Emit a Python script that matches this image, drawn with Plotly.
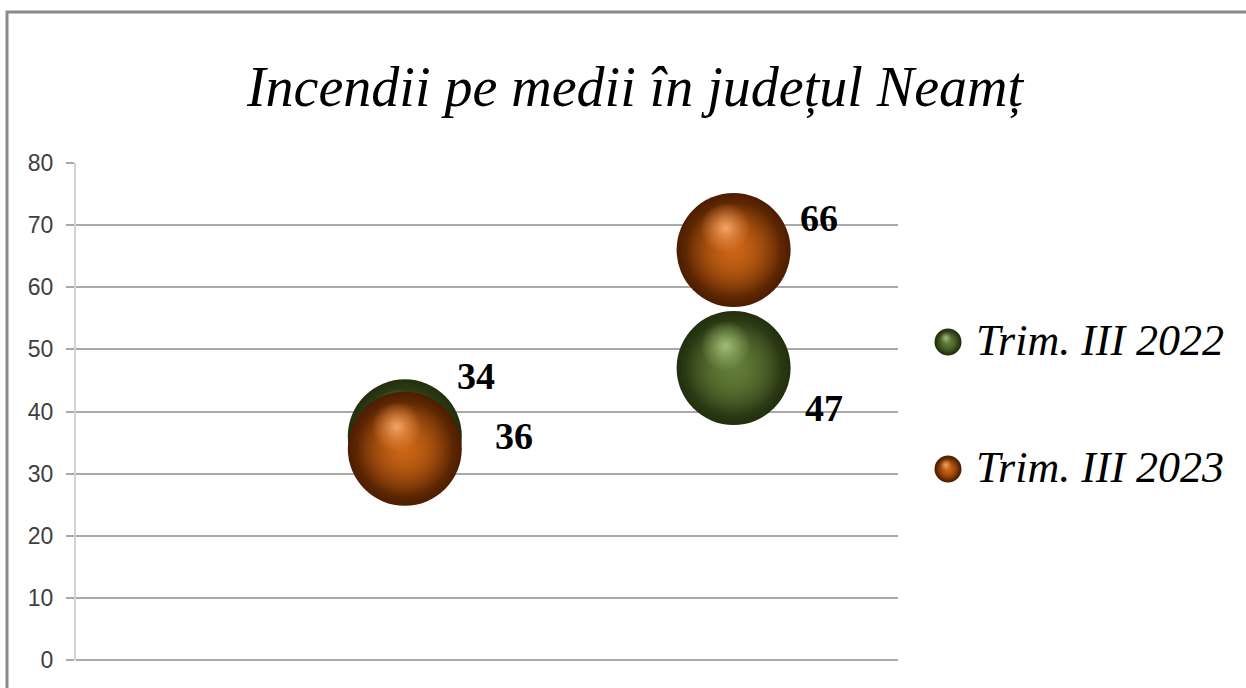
import plotly.graph_objects as go

# ---- data ----
x_positions = [1, 2]                      # two categories (no x labels shown)
series_names = ["Trim. III 2022", "Trim. III 2023"]
values_2022 = [36, 47]                    # bubble heights as drawn
values_2023 = [34, 66]
labels_2022 = ["34", "47"]                # data label texts as shown
labels_2023 = ["36", "66"]
y_ticks = [0, 10, 20, 30, 40, 50, 60, 70, 80]
title_text = "Incendii pe medii în județul Neamț"

# ---- layout geometry (pixels) ----
W, H = 1246, 688
ML, MT, MB = 76, 163, 28
PLOT_RIGHT = 898                 # right end of the gridlines
PAPER_W = W - ML                 # paper spans to the right edge (legend lives there)
PH = H - MT - MB
AX_W = PLOT_RIGHT - ML
X_RANGE = [0, 2.5]
Y_RANGE = [0, 80]


def px_x(px):
    return (px - ML) / PAPER_W


def px_y(py):
    return (H - MB - py) / PH


BUBBLE = 114
HL_DX_PX, HL_DY_PX = -8, -22
dx = HL_DX_PX * (X_RANGE[1] - X_RANGE[0]) / AX_W
dy = -HL_DY_PX * (Y_RANGE[1] - Y_RANGE[0]) / PH

styles = {
    "Trim. III 2022": dict(edge="#222e0d", base="#5c7633",
                           mid="rgba(98,124,58,0.95)", mid0="rgba(98,124,58,0)",
                           hl="rgba(166,194,120,0.95)", hl0="rgba(150,180,110,0)"),
    "Trim. III 2023": dict(edge="#4c1d00", base="#b8590f",
                           mid="rgba(204,102,22,0.95)", mid0="rgba(204,102,22,0)",
                           hl="rgba(248,170,108,0.95)", hl0="rgba(235,140,70,0)"),
}


def sphere_traces(xs, ys, size, st, xaxis="x", yaxis="y", hx=0.0, hy=0.0):
    """Three stacked radial-gradient markers to fake a shaded sphere.
    For radial gradients, gradient.color is the centre colour."""
    common = dict(mode="markers", showlegend=False, hoverinfo="skip",
                  cliponaxis=False, xaxis=xaxis, yaxis=yaxis)
    return [
        go.Scatter(x=xs, y=ys, **common,
                   marker=dict(size=size, color=st["edge"], line=dict(width=0),
                               gradient=dict(type="radial", color=st["base"]))),
        go.Scatter(x=xs, y=ys, **common,
                   marker=dict(size=size * 0.84, color=st["mid0"], line=dict(width=0),
                               gradient=dict(type="radial", color=st["mid"]))),
        go.Scatter(x=[v + hx for v in xs], y=[v + hy for v in ys], **common,
                   marker=dict(size=size * 0.44, color=st["hl0"], line=dict(width=0),
                               gradient=dict(type="radial", color=st["hl"]))),
    ]


fig = go.Figure()

series = [
    (series_names[0], values_2022, labels_2022),
    (series_names[1], values_2023, labels_2023),
]

for name, vals, labs in series:
    for tr in sphere_traces(x_positions, vals, BUBBLE, styles[name], hx=dx, hy=dy):
        tr.name = name
        fig.add_trace(tr)

# data labels (moved manually in the original)
label_shifts_2022 = [(71, 60), (90, -40)]
label_shifts_2023 = [(109, 13), (85, 32)]
for vals, labs, shifts in [(values_2022, labels_2022, label_shifts_2022),
                           (values_2023, labels_2023, label_shifts_2023)]:
    for xv, yv, t, (sx, sy) in zip(x_positions, vals, labs, shifts):
        fig.add_annotation(x=xv, y=yv, text=t, showarrow=False,
                           xshift=sx, yshift=sy,
                           font=dict(family="Liberation Serif", size=38,
                                     color="black", weight="bold"))

# ---- hand-drawn legend on a pixel axis pair (x2/y2 value == pixel) ----
legend_sym_x = 948
legend_rows_y = [342, 469]
legend_text_x = 974
for name, ly in zip(series_names, legend_rows_y):
    for tr in sphere_traces([legend_sym_x], [ly], 27, styles[name],
                            xaxis="x2", yaxis="y2", hx=-2, hy=-4):
        fig.add_trace(tr)
    fig.add_annotation(x=legend_text_x, y=ly, xref="x2", yref="y2",
                       text=name, showarrow=False, xanchor="left",
                       yanchor="middle", yshift=2,
                       font=dict(family="Liberation Serif", size=44,
                                 color="black", style="italic"))

# outer chart border (only top and left visible in the crop)
fig.add_shape(type="rect", xref="paper", yref="paper",
              x0=px_x(7), x1=px_x(W + 20), y0=px_y(H + 20), y1=px_y(12),
              line=dict(color="#8a8a8a", width=3), fillcolor="rgba(0,0,0,0)",
              layer="below")

fig.update_layout(
    width=W, height=H,
    margin=dict(l=ML, r=0, t=MT, b=MB, pad=0),
    paper_bgcolor="white", plot_bgcolor="rgba(0,0,0,0)",
    showlegend=False,
    title=dict(text=title_text, x=635 / W, xanchor="center",
               y=1 - 86 / H, yanchor="middle", yref="container",
               font=dict(family="Liberation Serif", size=56, color="black",
                         style="italic")),
    xaxis=dict(domain=[0, AX_W / PAPER_W], range=X_RANGE, showgrid=False,
               zeroline=False, showline=False, showticklabels=False, ticks="",
               fixedrange=True),
    yaxis=dict(range=Y_RANGE, tickvals=y_ticks, showgrid=True,
               gridcolor="#a9a9a9", gridwidth=2, zeroline=True,
               zerolinecolor="#a9a9a9", zerolinewidth=2,
               showline=True, linecolor="#d2d2d2", linewidth=2,
               ticks="outside", ticklen=8, tickwidth=2, tickcolor="#a9a9a9",
               ticklabelstandoff=8, fixedrange=True,
               tickfont=dict(family="Liberation Sans", size=23, color="#404040")),
    xaxis2=dict(domain=[0, 1], anchor="y2", range=[ML, W], visible=False,
                fixedrange=True),
    yaxis2=dict(domain=[0, 1], anchor="x2", range=[H - MB, MT], visible=False,
                fixedrange=True),
)

fig.write_html("out.html",
               config={"displayModeBar": False},
               post_script="document.body.style.margin='0px';"
                           "document.body.style.padding='0px';")
